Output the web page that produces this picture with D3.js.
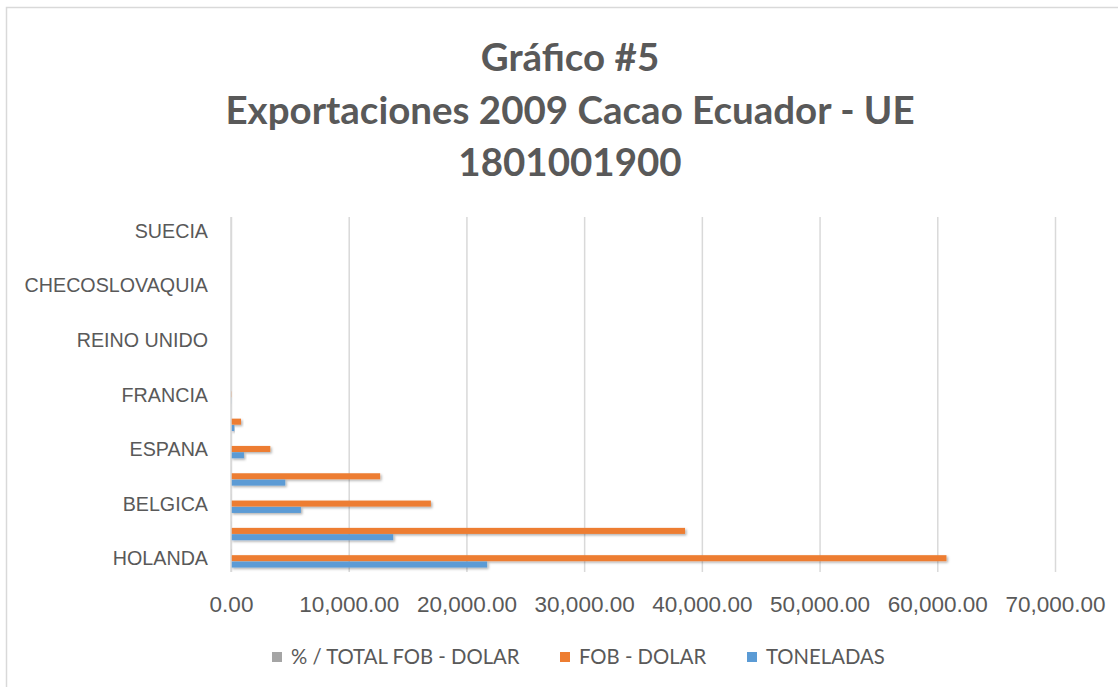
<!DOCTYPE html>
<html>
<head>
<meta charset="utf-8">
<script src="https://cdn.jsdelivr.net/npm/d3@7"></script>
<style>
    body { margin: 0; background: #fff; }
    svg { display: block; font-family: Lato, "Open Sans", sans-serif; }
    .title { font-weight: bold; fill: #595959; font-size: 38.5px; }
    .axis text { fill: #595959; font-size: 19.7px; }
    .xaxis text { font-size: 22.5px; }
    .axis path, .axis line { stroke: none; }
    .grid line { stroke: #d9d9d9; stroke-width: 1.5; }
    .grid path { stroke: none; }
    .legend text { fill: #595959; font-size: 20.3px; }
</style>
</head>
<body>
<div id="container"></div>
<script>
// categories bottom to top (only every other one gets a label, as in the original)
const countries = ["HOLANDA", "ALEMANIA", "BELGICA", "ITALIA", "ESPANA", "AUSTRIA", "FRANCIA",
                   "DINAMARCA", "REINO UNIDO", "GRECIA", "CHECOSLOVAQUIA", "POLONIA", "SUECIA"];
const series = ["% / TOTAL FOB - DOLAR", "FOB - DOLAR", "TONELADAS"];
const pctFob = [45.6, 28.9, 12.7, 9.5, 2.5, 0.6, 0.05, 0, 0, 0, 0, 0, 0];
const fobDolar = [60780, 38570, 16980, 12670, 3340, 850, 60, 0, 0, 0, 0, 0, 0];
const toneladas = [21760, 13780, 5940, 4610, 1100, 280, 20, 0, 0, 0, 0, 0, 0];
const xTicks = [0, 10000, 20000, 30000, 40000, 50000, 60000, 70000];
const colors = ["#a5a5a5", "#ed7d31", "#5b9bd5"];

const W = 1118, H = 687;
const plot = { left: 231, right: 1055, top: 217, bottom: 572 };

const svg = d3.select('#container').append('svg')
    .attr('width', W)
    .attr('height', H);

const defs = svg.append('defs');
defs.append('filter')
    .attr('id', 'shadow')
    .attr('x', '-10%').attr('y', '-50%')
    .attr('width', '130%').attr('height', '250%')
    .append('feDropShadow')
    .attr('dx', 1.5).attr('dy', 1.5)
    .attr('stdDeviation', 1.2)
    .attr('flood-color', '#000')
    .attr('flood-opacity', 0.3);

// chart frame (runs off the right and bottom edges)
svg.append('rect')
    .attr('x', 6.5).attr('y', 7.5)
    .attr('width', W + 20).attr('height', H + 20)
    .attr('fill', 'none')
    .attr('stroke', '#d9d9d9')
    .attr('stroke-width', 1.5);

const titleLines = ["Gráfico #5", "Exportaciones 2009 Cacao Ecuador - UE", "1801001900"];
svg.selectAll('.title')
    .data(titleLines)
    .enter()
    .append('text')
    .attr('class', 'title')
    .attr('x', 570)
    .attr('y', (d, i) => 71 + i * 52.5)
    .attr('text-anchor', 'middle')
    .text(d => d);

const xScale = d3.scaleLinear()
    .domain([0, 70000])
    .range([plot.left, plot.right]);

const yScale = d3.scaleBand()
    .domain(countries)
    .range([plot.bottom, plot.top]);

// order inside each band: gray top, orange middle, blue bottom
const inner = d3.scaleBand()
    .domain(series)
    .range([yScale.bandwidth() / 2 - 9.5, yScale.bandwidth() / 2 + 9.5]);

svg.append('g')
    .attr('class', 'grid')
    .attr('transform', `translate(0, ${plot.bottom})`)
    .call(d3.axisBottom(xScale)
        .tickValues(xTicks)
        .tickSize(-(plot.bottom - plot.top))
        .tickFormat(''));

const xAxis = svg.append('g')
    .attr('class', 'axis xaxis')
    .attr('transform', `translate(0, ${plot.bottom})`)
    .call(d3.axisBottom(xScale)
        .tickValues(xTicks)
        .tickSize(0)
        .tickPadding(39.5)
        .tickFormat(d3.format(',.2f')));
xAxis.selectAll('text').attr('dy', 0);

const yAxis = svg.append('g')
    .attr('class', 'axis')
    .attr('transform', `translate(${plot.left}, 0)`)
    .call(d3.axisLeft(yScale)
        .tickSize(0)
        .tickPadding(23)
        .tickFormat((d, i) => i % 2 === 0 ? d : ''));
yAxis.selectAll('text').attr('dy', '0.36em');

const rows = countries.map((c, i) => ({
    country: c,
    values: [pctFob[i], fobDolar[i], toneladas[i]]
}));

const groups = svg.append('g')
    .selectAll('g')
    .data(rows)
    .enter()
    .append('g')
    .attr('transform', d => `translate(0, ${yScale(d.country)})`);

groups.selectAll('rect')
    .data(d => d.values.map((v, k) => ({ key: series[k], value: v, color: colors[k] })))
    .enter()
    .append('rect')
    .attr('x', xScale(0))
    .attr('y', d => inner(d.key))
    .attr('width', d => xScale(d.value) - xScale(0))
    .attr('height', inner.bandwidth() - 0.3)
    .attr('fill', d => d.color)
    .attr('filter', 'url(#shadow)');

// vertical category axis line
svg.append('line')
    .attr('x1', plot.left).attr('x2', plot.left)
    .attr('y1', plot.top).attr('y2', plot.bottom)
    .attr('stroke', '#d9d9d9')
    .attr('stroke-width', 1.5);

const legendX = [272, 560, 747];
const legend = svg.append('g')
    .attr('class', 'legend')
    .selectAll('g')
    .data(series)
    .enter()
    .append('g')
    .attr('transform', (d, i) => `translate(${legendX[i]}, 657)`);

legend.append('rect')
    .attr('x', 0).attr('y', -5)
    .attr('width', 10).attr('height', 10)
    .attr('fill', (d, i) => colors[i]);

legend.append('text')
    .attr('x', 19)
    .attr('dy', '0.36em')
    .text(d => d);
</script>
</body>
</html>
